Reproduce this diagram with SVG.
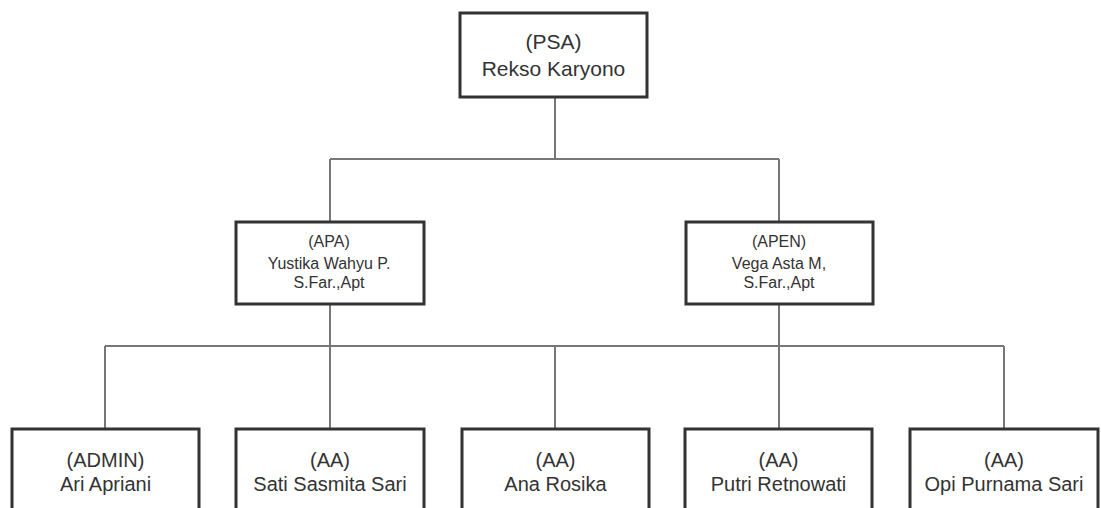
<svg xmlns="http://www.w3.org/2000/svg" width="1101" height="508" viewBox="0 0 1101 508">
<style>
.box{fill:#fff;stroke:#333;stroke-width:3}
.ln{fill:none;stroke:#777;stroke-width:2}
.t{font-family:"Liberation Sans",Arial,sans-serif;fill:#333;text-anchor:middle}
.big{font-size:21px}
.mid{font-size:16px}
.bot{font-size:20px}
</style>
<rect width="1101" height="508" fill="#fff"/>
<g id="connectors">
<path class="ln" d="M555 97V159M330 159H779M330 159V222M779 159V222M330 304V429M779 304V429M105 346H1004M105 346V429M555 346V429M1004 346V429"/>
</g>
<g id="psa"><rect class="box" x="460" y="13" width="187" height="84"/>
<text class="t big" x="553.5" y="49">(PSA)</text><text class="t big" x="553.5" y="76">Rekso Karyono</text></g>
<g id="apa"><rect class="box" x="236" y="222" width="188" height="82"/>
<text class="t mid" x="329" y="247">(APA)</text><text class="t mid" x="329" y="269">Yustika Wahyu P.</text><text class="t mid" x="329" y="288">S.Far.,Apt</text></g>
<g id="apen"><rect class="box" x="686" y="222" width="187" height="82"/>
<text class="t mid" x="779" y="247">(APEN)</text><text class="t mid" x="779" y="269">Vega Asta M,</text><text class="t mid" x="779" y="288">S.Far.,Apt</text></g>
<g id="admin"><rect class="box" x="12" y="429" width="187" height="90"/>
<text class="t bot" x="105.5" y="467">(ADMIN)</text><text class="t bot" x="105.5" y="491">Ari Apriani</text></g>
<g id="aa1"><rect class="box" x="236" y="429" width="188" height="90"/>
<text class="t bot" x="330" y="467">(AA)</text><text class="t bot" x="330" y="491">Sati Sasmita Sari</text></g>
<g id="aa2"><rect class="box" x="462" y="429" width="187" height="90"/>
<text class="t bot" x="555.5" y="467">(AA)</text><text class="t bot" x="555.5" y="491">Ana Rosika</text></g>
<g id="aa3"><rect class="box" x="685" y="429" width="187" height="90"/>
<text class="t bot" x="778.5" y="467">(AA)</text><text class="t bot" x="778.5" y="491">Putri Retnowati</text></g>
<g id="aa4"><rect class="box" x="910" y="429" width="188" height="90"/>
<text class="t bot" x="1004" y="467">(AA)</text><text class="t bot" x="1004" y="491">Opi Purnama Sari</text></g>
</svg>
